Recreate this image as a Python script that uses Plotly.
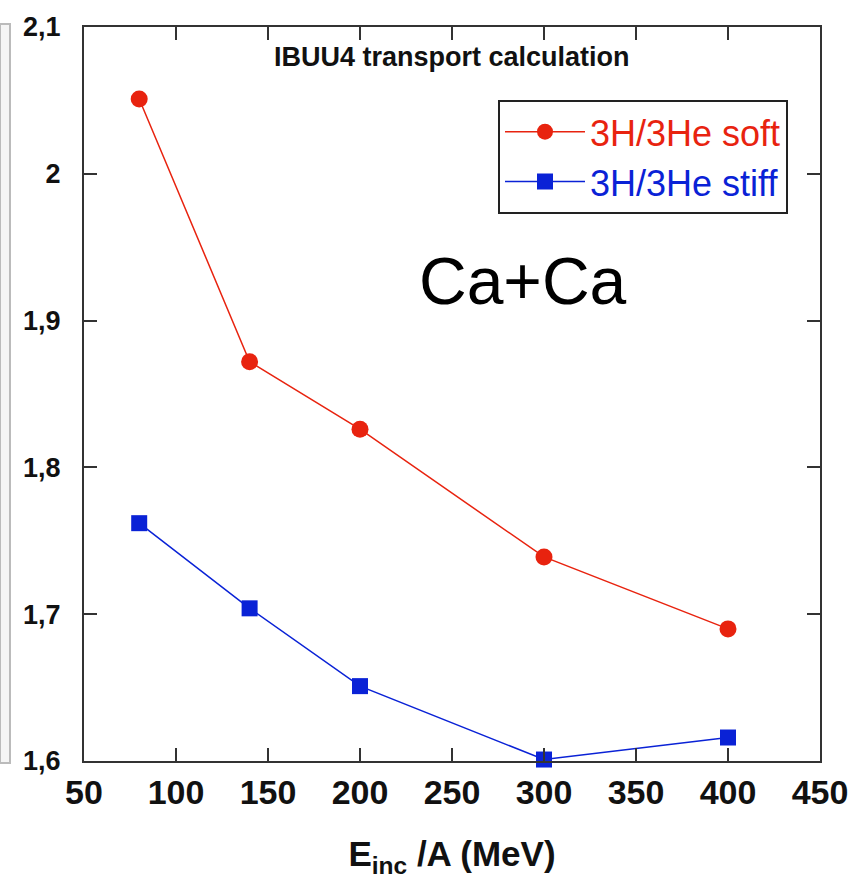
import plotly.graph_objects as go

energy = [80, 140, 200, 300, 400]
soft = [2.051, 1.872, 1.826, 1.739, 1.690]
stiff = [1.762, 1.704, 1.651, 1.601, 1.616]
yticks = [1.6, 1.7, 1.8, 1.9, 2.0, 2.1]
yticktext = ["1,6", "1,7", "1,8", "1,9", "2", "2,1"]
xticks = [50, 100, 150, 200, 250, 300, 350, 400, 450]

RED = "#e8230f"
BLUE = "#0a22d6"
FONT = "Liberation Sans, Arial, sans-serif"

fig = go.Figure()
fig.add_trace(go.Scatter(
    x=energy, y=soft, mode="lines+markers",
    name="<span style='color:%s'>3H/3He soft</span>" % RED,
    line=dict(color=RED, width=1.5),
    marker=dict(symbol="circle", size=17, color=RED),
    cliponaxis=False,
))
fig.add_trace(go.Scatter(
    x=energy, y=stiff, mode="lines+markers",
    name="<span style='color:%s'>3H/3He stiff</span>" % BLUE,
    line=dict(color=BLUE, width=1.5),
    marker=dict(symbol="square", size=16, color=BLUE),
    cliponaxis=False,
))

axis_common = dict(
    showline=True, linecolor="#333", linewidth=2, mirror="ticks",
    ticks="inside", ticklen=13, tickwidth=2, tickcolor="#333",
    showgrid=False, zeroline=False,
)
fig.update_xaxes(
    range=[50, 450], tickvals=xticks,
    tickfont=dict(family=FONT, size=34, color="#111", weight="bold"),
    title=dict(text="E<sub>inc</sub> /A (MeV)",
               font=dict(family=FONT, size=35, color="#111", weight="bold"),
               standoff=32),
    **axis_common,
)
fig.update_yaxes(
    range=[1.6, 2.1], tickvals=yticks, ticktext=yticktext,
    tickfont=dict(family=FONT, size=27, color="#111", weight="bold"),
    ticklabelstandoff=16,
    **axis_common,
)

fig.add_annotation(
    text="IBUU4 transport calculation", xref="paper", yref="paper",
    x=0.5, y=(761 - 55) / 736, showarrow=False, yanchor="middle",
    font=dict(family=FONT, size=27, color="#111", weight="bold"),
)
fig.add_annotation(
    text="Ca+Ca", xref="paper", yref="paper",
    x=(523 - 84) / 736, y=(761 - 280) / 736, showarrow=False, yanchor="middle",
    font=dict(family=FONT, size=66, color="#000"),
)
fig.add_shape(
    type="rect", xref="paper", yref="paper",
    x0=(0 - 84) / 736, x1=(10 - 84) / 736,
    y0=(761 - 763) / 736, y1=(761 - 22) / 736,
    fillcolor="#f5f5f5", line=dict(color="#bbbbbb", width=2), layer="below",
)

fig.update_layout(
    width=868, height=893,
    margin=dict(l=84, r=48, t=25, b=132),
    paper_bgcolor="white", plot_bgcolor="white",
    showlegend=True,
    legend=dict(
        x=(498 - 84) / 736, y=(761 - 98) / 736, xanchor="left", yanchor="top",
        bordercolor="#222", borderwidth=2, bgcolor="white",
        font=dict(family=FONT, size=36),
        tracegroupgap=0, itemwidth=80,
    ),
    font=dict(family=FONT),
)

fig.write_html("out.html")
